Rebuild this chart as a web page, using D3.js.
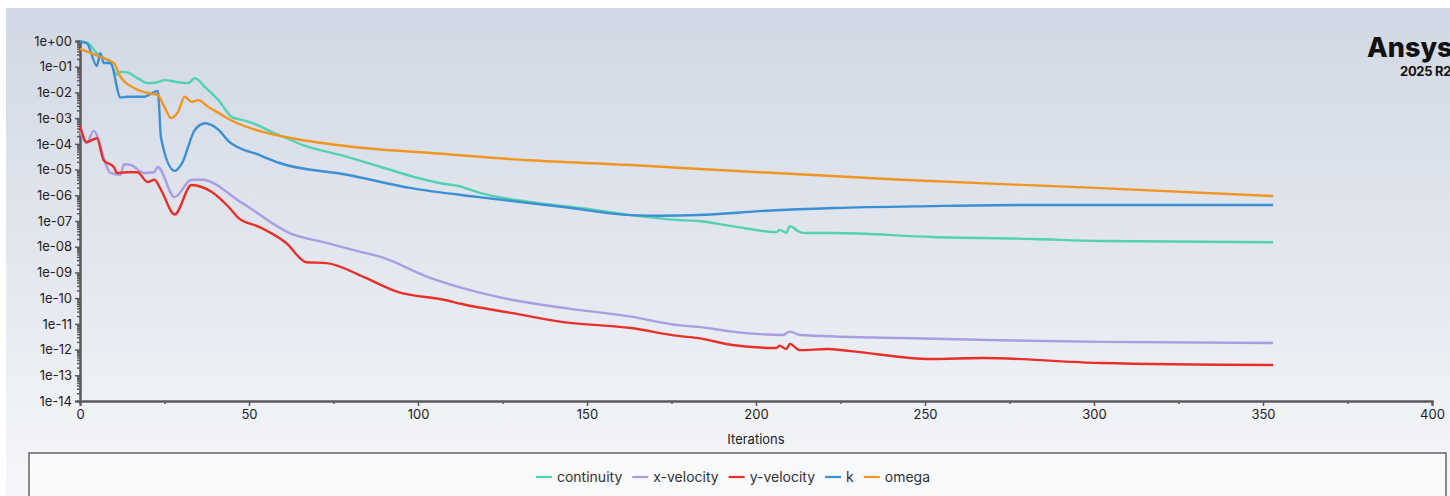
<!DOCTYPE html>
<html>
<head>
<meta charset="utf-8">
<script src="https://cdn.jsdelivr.net/npm/d3@7"></script>
<style>
  html, body { margin: 0; padding: 0; background: #ffffff; }
  svg { display: block; font-family: Inter, "Noto Sans", sans-serif; }
</style>
</head>
<body>
<svg id="chart" width="1450" height="496"></svg>
<script>
// residual histories, [iteration, residual]
const continuity = [
  [0, 0.93], [2, 0.87], [5, 0.34], [7, 0.22], [9, 0.14], [11, 0.048], [12, 0.063], [14, 0.06],
  [17, 0.036], [20, 0.023], [23, 0.025], [25, 0.03], [29, 0.025], [32, 0.023], [34, 0.036],
  [37, 0.016], [41, 5.0e-3], [45, 1.1e-3], [49, 7.9e-4], [53, 5.0e-4], [57, 2.8e-4], [61, 1.7e-4],
  [66, 8.9e-5], [77, 3.7e-5], [89, 1.26e-5], [100, 4.7e-6], [108, 2.75e-6], [112, 2.3e-6],
  [118, 1.26e-6], [133, 5.5e-7], [148, 3.2e-7], [163, 1.7e-7], [177, 1.1e-7], [183, 1.0e-7],
  [193, 6.3e-8], [206, 3.7e-8], [207, 4.5e-8], [209, 3.5e-8], [210, 6.3e-8], [213, 3.7e-8],
  [215, 3.4e-8], [223, 3.4e-8], [252, 2.4e-8], [282, 2.0e-8], [302, 1.66e-8], [353, 1.5e-8]
];
const xVelocity = [
  [0, 3.2e-4], [2, 1.07e-4], [4, 3.2e-4], [9, 7.4e-6], [12, 6.3e-6], [13, 1.6e-5], [15, 1.5e-5],
  [19, 7.4e-6], [22, 7.9e-6], [23, 1.26e-5], [28, 8.5e-7], [33, 4.0e-6], [36, 4.0e-6],
  [48, 5.0e-7], [62, 3.4e-8], [73, 1.4e-8], [83, 6.3e-9], [89, 4.0e-9], [103, 6.6e-10],
  [113, 2.5e-10], [128, 8.5e-11], [143, 4.2e-11], [163, 1.9e-11], [177, 8.9e-12], [183, 7.6e-12],
  [193, 5.0e-12], [208, 3.7e-12], [210, 5.0e-12], [213, 3.7e-12], [243, 2.8e-12],
  [272, 2.3e-12], [302, 2.0e-12], [353, 1.8e-12]
];
const yVelocity = [
  [0, 5.0e-4], [2, 1.17e-4], [5, 1.66e-4], [7, 2.3e-5], [10, 1.26e-5], [11, 7.4e-6], [14, 7.9e-6],
  [17, 7.9e-6], [20, 3.3e-6], [22, 4.0e-6], [24, 1.6e-6], [28, 1.8e-7], [33, 2.5e-6], [36, 2.1e-6],
  [39, 1.35e-6], [44, 3.5e-7], [47, 1.26e-7], [53, 5.9e-8], [61, 1.4e-8], [67, 2.5e-9],
  [73, 2.3e-9], [84, 6.6e-10], [94, 1.74e-10], [108, 8.5e-11], [113, 5.9e-11], [128, 2.6e-11],
  [143, 1.17e-11], [163, 6.9e-12], [177, 3.4e-12], [183, 2.8e-12], [193, 1.5e-12],
  [206, 1.15e-12], [207, 1.4e-12], [209, 1.05e-12], [210, 1.66e-12], [213, 9.5e-13],
  [221, 1.05e-12], [228, 8.7e-13], [252, 4.3e-13], [267, 4.7e-13], [302, 3.0e-13], [353, 2.5e-13]
];
const kResidual = [
  [0, 0.93], [2, 0.83], [5, 0.107], [6, 0.34], [7, 0.14], [9, 0.14], [12, 6.3e-3], [14, 6.8e-3],
  [19, 6.8e-3], [23, 1.15e-2], [24, 1.6e-4], [28, 8.9e-6], [30, 1.6e-5], [34, 3.5e-4],
  [37, 6.3e-4], [41, 3.5e-4], [44, 1.26e-4], [53, 3.7e-5], [59, 1.8e-5], [79, 6.3e-6],
  [98, 1.9e-6], [118, 8.5e-7], [143, 3.5e-7], [163, 1.7e-7], [172, 1.6e-7], [183, 1.7e-7],
  [203, 2.5e-7], [223, 3.2e-7], [252, 3.8e-7], [282, 4.2e-7], [353, 4.2e-7]
];
const omega = [
  [0, 0.49], [6, 0.24], [10, 0.14], [12, 0.04], [16, 0.0148], [20, 9.5e-3], [23, 7.9e-3],
  [25, 2.7e-3], [27, 1.0e-3], [29, 1.74e-3], [31, 6.8e-3], [33, 4.3e-3], [35, 5.0e-3],
  [38, 2.7e-3], [41, 1.6e-3], [45, 7.9e-4], [54, 2.9e-4], [64, 1.55e-4], [84, 6.9e-5],
  [104, 4.4e-5], [133, 2.3e-5], [163, 1.5e-5], [178, 1.15e-5], [243, 4.0e-6], [302, 1.9e-6],
  [353, 9.3e-7]
];

const seriesNames = ["continuity", "x-velocity", "y-velocity", "k", "omega"];
const seriesColors = ["#52d2b2", "#aa9de2", "#e8302a", "#3b8fd3", "#f2951f"];
const seriesData = [continuity, xVelocity, yVelocity, kResidual, omega];

const xTicks = [0, 50, 100, 150, 200, 250, 300, 350, 400];
const yTickLabels = ["1e+00", "1e-01", "1e-02", "1e-03", "1e-04", "1e-05", "1e-06", "1e-07",
  "1e-08", "1e-09", "1e-10", "1e-11", "1e-12", "1e-13", "1e-14"];

const svg = d3.select("#chart");

// background panel with soft vertical gradient
const defs = svg.append("defs");
const grad = defs.append("linearGradient")
    .attr("id", "bg")
    .attr("x1", 0).attr("y1", 0).attr("x2", 0).attr("y2", 1);
grad.append("stop").attr("offset", "0%").attr("stop-color", "#d1d8e5");
grad.append("stop").attr("offset", "55%").attr("stop-color", "#e4e8ef");
grad.append("stop").attr("offset", "100%").attr("stop-color", "#f6f7f9");

svg.append("rect")
    .attr("x", 6).attr("y", 8)
    .attr("width", 1444).attr("height", 488)
    .attr("fill", "url(#bg)");

// plot area
var margin = {top: 41, left: 80},
    width = 1432 - 80,
    height = 401 - 41;

const g = svg.append("g")
    .attr("transform", "translate(" + margin.left + "," + margin.top + ")");

const x = d3.scaleLinear()
    .domain([0, 400])
    .range([0, width]);

const y = d3.scaleLog()
    .domain([1e-14, 1])
    .range([height, 0]);

// y axis: majors per decade plus log minors
const yMajors = yTickLabels.map((s) => +s);
const yMinors = [];
yMajors.slice(1).forEach((m) => {
    for (let k = 2; k <= 9; k++) yMinors.push(m * k);
});

g.append("g")
    .attr("class", "axis")
    .call(d3.axisLeft(y).tickValues(yMinors).tickSize(3).tickFormat(""));

g.append("g")
    .attr("class", "axis")
    .call(d3.axisLeft(y)
        .tickValues(yMajors)
        .tickSize(5)
        .tickPadding(3)
        .tickFormat((d, i) => yTickLabels[i]));

// x axis
g.append("g")
    .attr("class", "axis")
    .attr("transform", "translate(0," + height + ")")
    .call(d3.axisBottom(x).tickValues(d3.range(25, 400, 50)).tickSize(3).tickFormat(""));

g.append("g")
    .attr("class", "axis")
    .attr("transform", "translate(0," + height + ")")
    .call(d3.axisBottom(x)
        .tickValues(xTicks)
        .tickSize(5)
        .tickPadding(4)
        .tickFormat(d3.format("d")));

g.selectAll(".axis path, .axis line")
    .attr("stroke", "#5a5a5a")
    .attr("stroke-width", 1.5);
g.selectAll(".axis .domain").attr("stroke-width", 2);
g.selectAll(".axis text")
    .style("font-size", "13px")
    .style("font-family", "Inter, 'Noto Sans', sans-serif")
    .attr("fill", "#222");

svg.append("text")
    .attr("x", 756)
    .attr("y", 444)
    .attr("text-anchor", "middle")
    .style("font-size", "13px")
    .attr("fill", "#222")
    .text("Iterations");

// residual lines
const line = d3.line()
    .curve(d3.curveMonotoneX)
    .x(function(d) { return x(d[0]) })
    .y(function(d) { return y(d[1]) });

seriesData.forEach((data, i) => {
    g.append("path")
        .datum(data)
        .attr("fill", "none")
        .attr("stroke", seriesColors[i])
        .attr("stroke-width", 2.4)
        .attr("stroke-linejoin", "round")
        .attr("d", line);
});

// logo
svg.append("text")
    .attr("x", 1367)
    .attr("y", 57)
    .style("font-size", "27px")
    .style("font-weight", 800)
    .attr("fill", "#111")
    .text("Ansys");
svg.append("text")
    .attr("x", 1400)
    .attr("y", 76)
    .style("font-size", "13px")
    .style("font-weight", 700)
    .style("letter-spacing", "-0.3px")
    .attr("fill", "#111")
    .text("2025 R2");

// legend box
svg.append("rect")
    .attr("x", 29).attr("y", 453)
    .attr("width", 1417).attr("height", 60)
    .attr("fill", "#f8f9fb")
    .attr("stroke", "#6e6e6e")
    .attr("stroke-width", 1.6);

const legend = svg.append("g");
let lx = 0;
seriesNames.forEach((name, i) => {
    const item = legend.append("g").attr("transform", "translate(" + lx + ",0)");
    item.append("line")
        .attr("x1", 0).attr("x2", 16)
        .attr("y1", 0).attr("y2", 0)
        .attr("stroke", seriesColors[i])
        .attr("stroke-width", 2.2);
    const t = item.append("text")
        .attr("x", 21)
        .attr("y", 5)
        .style("font-size", "14px")
        .attr("fill", "#333")
        .text(name);
    lx += 21 + t.node().getComputedTextLength() + 10;
});
const legendWidth = lx - 10;
legend.attr("transform", "translate(" + (733 - legendWidth / 2) + ",477)");
</script>
</body>
</html>
